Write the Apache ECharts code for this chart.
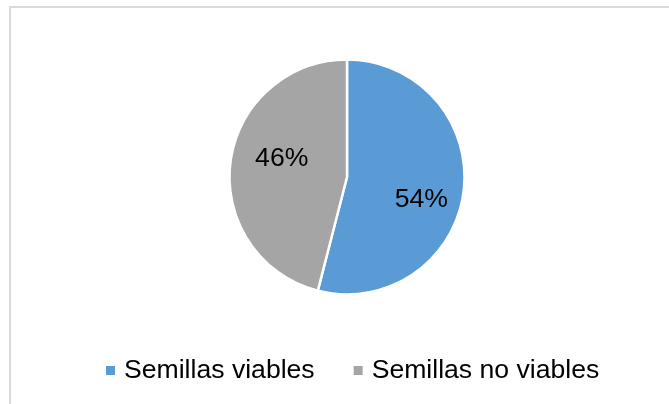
<!DOCTYPE html>
<html>
<head>
<meta charset="utf-8">
<script src="https://cdn.jsdelivr.net/npm/echarts@6/dist/echarts.min.js"></script>
<style>
  html, body { margin: 0; padding: 0; background: #fff; }
  #chart { width: 669px; height: 404px; }
</style>
</head>
<body>
<div id="chart"></div>
<script>
// Seed viability shares (percent)
const categories = ['Semillas viables', 'Semillas no viables'];
const shares = [54, 46];
const colors = ['#5B9BD5', '#A5A5A5'];
// nudges that move the in-slice labels off the slice midpoints
const labelOffsets = [[13, 15], [-4, -11]];

const chart = echarts.init(document.getElementById('chart'), null, { renderer: 'canvas' });

const FONT = '"Liberation Sans", Arial, sans-serif';

chart.setOption({
  animation: false,
  backgroundColor: '#fff',
  graphic: [{
    type: 'rect',
    shape: { x: 10, y: 7, width: 720, height: 500 },
    style: { fill: 'none', stroke: '#D9D9D9', lineWidth: 2 },
    silent: true,
    z: -1
  }],
  legend: {
    bottom: 15,
    left: 101,
    icon: 'rect',
    itemWidth: 9,
    itemHeight: 9,
    itemGap: 39,
    // plain squares: no white slice border on the legend swatches
    itemStyle: { borderWidth: 0 },
    textStyle: {
      fontFamily: FONT,
      fontSize: 26.6,
      color: '#000',
      padding: [0, 0, 0, 4]
    },
    data: categories
  },
  series: [{
    type: 'pie',
    center: [347, 177],
    radius: [0, 117.5],
    startAngle: 90,
    clockwise: true,
    avoidLabelOverlap: false,
    itemStyle: { borderColor: '#fff', borderWidth: 2.5 },
    label: {
      show: true,
      position: 'inside',
      formatter: '{c}%',
      fontFamily: FONT,
      fontSize: 26.6,
      color: '#000'
    },
    labelLine: { show: false },
    emphasis: { disabled: true },
    data: categories.map((name, i) => ({
      name: name,
      value: shares[i],
      itemStyle: { color: colors[i] },
      label: { offset: labelOffsets[i] }
    }))
  }]
});
</script>
</body>
</html>
